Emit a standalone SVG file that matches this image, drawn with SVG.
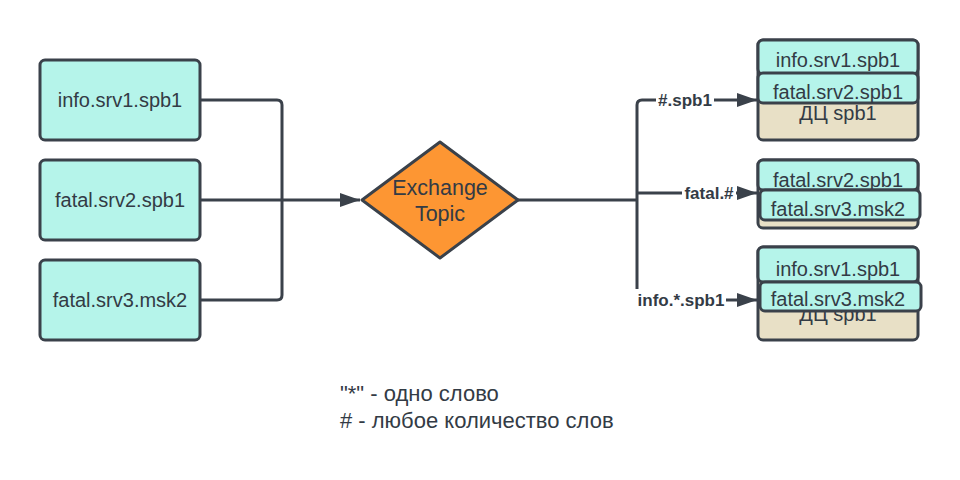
<svg xmlns="http://www.w3.org/2000/svg" width="960" height="480" viewBox="0 0 960 480">
<style>
  .box{fill:#b5f4ea;stroke:#3a414a;stroke-width:3}
  .dc{fill:#e8e0c6;stroke:#3a414a;stroke-width:3}
  .dia{fill:#fd9633;stroke:#3a414a;stroke-width:3;stroke-linejoin:round}
  .t{font-family:"Liberation Sans",Arial,sans-serif;font-size:20px;fill:#333b45;text-anchor:middle}
  .td{font-family:"Liberation Sans",Arial,sans-serif;font-size:21.5px;fill:#333b45;text-anchor:middle}
  .lbl{font-family:"Liberation Sans",Arial,sans-serif;font-size:17px;font-weight:bold;fill:#333b45;text-anchor:middle}
  .leg{font-family:"Liberation Sans",Arial,sans-serif;font-size:22px;fill:#333b45}
  .ln{fill:none;stroke:#3a414a;stroke-width:3}
</style>
<defs>
  <marker id="arr" markerUnits="userSpaceOnUse" markerWidth="22" markerHeight="16" refX="20" refY="8" orient="auto">
    <path d="M0,1 L20,8 L0,15 Z" fill="#3a414a"/>
  </marker>
</defs>
<rect width="960" height="480" fill="#ffffff"/>

<g id="connectors">
  <path class="ln" d="M200,100 H277 Q282,100 282,105 V200"/>
  <path class="ln" d="M200,300 H277 Q282,300 282,295 V200"/>
  <path class="ln" d="M200,200 H360" marker-end="url(#arr)"/>
  <path class="ln" d="M518,200 H637"/>
  <path class="ln" d="M637,200 V105 Q637,100 642,100 H757" marker-end="url(#arr)"/>
  <path class="ln" d="M637,193 H757" marker-end="url(#arr)"/>
  <path class="ln" d="M637,200 V295 Q637,300 642,300 H757" marker-end="url(#arr)"/>
  <rect x="656" y="90" width="58" height="20" fill="#ffffff"/>
  <text class="lbl" x="685" y="106">#.spb1</text>
  <rect x="682" y="183" width="54" height="20" fill="#ffffff"/>
  <text class="lbl" x="709" y="199">fatal.#</text>
  <rect x="635" y="289" width="91" height="22" fill="#ffffff"/>
  <text class="lbl" x="681" y="306">info.*.spb1</text>
</g>

<g id="src1">
  <rect class="box" x="40" y="60" width="160" height="80" rx="5"/>
  <text class="t" x="120" y="107">info.srv1.spb1</text>
</g>
<g id="src2">
  <rect class="box" x="40" y="160" width="160" height="80" rx="5"/>
  <text class="t" x="120" y="207">fatal.srv2.spb1</text>
</g>
<g id="src3">
  <rect class="box" x="40" y="260" width="160" height="80" rx="5"/>
  <text class="t" x="120" y="307">fatal.srv3.msk2</text>
</g>

<g id="exchange">
  <path class="dia" d="M362,200 L440,142 L518,200 L440,258 Z"/>
  <text class="td" x="440" y="195">Exchange</text>
  <text class="td" x="440" y="221">Topic</text>
</g>

<g id="q1">
  <rect class="dc" x="758" y="40" width="160" height="100" rx="5"/>
  <text class="t" x="838" y="120">ДЦ spb1</text>
  <rect class="box" x="758" y="40" width="160" height="34" rx="5"/>
  <text class="t" x="838" y="67">info.srv1.spb1</text>
  <rect class="box" x="758" y="73" width="160" height="30" rx="5"/>
  <text class="t" x="838" y="99">fatal.srv2.spb1</text>
</g>

<g id="q2">
  <rect class="dc" x="758" y="160" width="160" height="68" rx="5"/>
  <rect class="box" x="758" y="160" width="160" height="30" rx="5"/>
  <text class="t" x="838" y="187">fatal.srv2.spb1</text>
  <rect class="box" x="760" y="190" width="160" height="30" rx="5"/>
  <text class="t" x="838" y="216">fatal.srv3.msk2</text>
</g>

<g id="q3">
  <rect class="dc" x="758" y="247" width="160" height="93" rx="5"/>
  <text class="t" x="838" y="321">ДЦ spb1</text>
  <rect class="box" x="758" y="247" width="160" height="35" rx="5"/>
  <text class="t" x="838" y="276">info.srv1.spb1</text>
  <rect class="box" x="760" y="282" width="161" height="29" rx="5"/>
  <text class="t" x="838" y="306">fatal.srv3.msk2</text>
</g>

<g id="legend">
  <text class="leg" x="340" y="401">"*" - одно слово</text>
  <text class="leg" x="340" y="428"># - любое количество слов</text>
</g>
</svg>
